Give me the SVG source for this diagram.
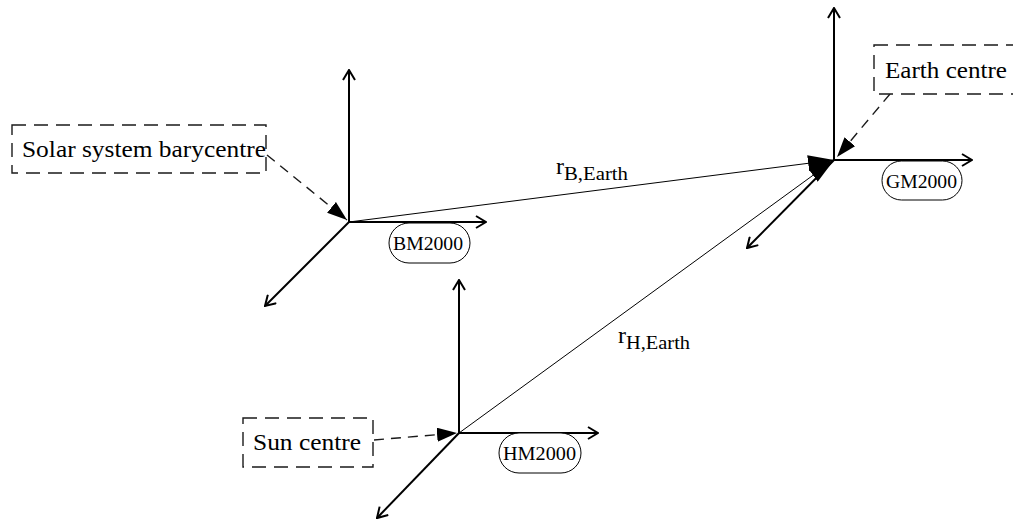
<svg xmlns="http://www.w3.org/2000/svg" width="1013" height="523" viewBox="0 0 1013 523">
<defs>
<marker id="open" viewBox="0 0 12 14" refX="11" refY="7" markerWidth="12" markerHeight="14" markerUnits="userSpaceOnUse" orient="auto">
<path d="M1,1 L11,7 L1,13" fill="none" stroke="#000" stroke-width="2"/>
</marker>
<marker id="solid" viewBox="0 0 26 16" refX="26" refY="8" markerWidth="26" markerHeight="16" markerUnits="userSpaceOnUse" orient="auto">
<path d="M0,0 L26,8 L0,16 Z" fill="#000"/>
</marker>
<marker id="solidS" viewBox="0 0 20 14" refX="20" refY="7" markerWidth="20" markerHeight="14" markerUnits="userSpaceOnUse" orient="auto">
<path d="M0,0 L20,7 L0,14 Z" fill="#000"/>
</marker>
</defs>
<style>
.axis{stroke:#000;stroke-width:2;fill:none;marker-end:url(#open)}
.vec{stroke:#000;stroke-width:1;fill:none;marker-end:url(#solid)}
.dash{stroke:#1a1a1a;stroke-width:1.4;fill:none;stroke-dasharray:10,7;marker-end:url(#solidS)}
.lbox{fill:#fff;stroke:#1a1a1a;stroke-width:1.4;stroke-dasharray:14,8}
.tag{fill:#fff;stroke:#000;stroke-width:1}
.t{font-family:"Liberation Serif","Times New Roman",serif;fill:#000}
.big{font-size:24px}
.small{font-size:18px}
</style>
<g id="frame-bm2000">
<line class="axis" x1="349" y1="222" x2="349" y2="70"/>
<line class="axis" x1="349" y1="222" x2="486" y2="222"/>
<line class="axis" x1="349" y1="222" x2="265" y2="306"/>
<rect class="tag" x="389" y="223" width="81" height="40" rx="20"/>
<text class="t small" x="393" y="250" textLength="70" lengthAdjust="spacingAndGlyphs">BM2000</text>
</g>
<g id="frame-gm2000">
<line class="axis" x1="834" y1="160" x2="834" y2="8"/>
<line class="axis" x1="834" y1="160" x2="972" y2="160"/>
<line class="axis" x1="834" y1="160" x2="747" y2="248"/>
<rect class="tag" x="882" y="161" width="80" height="39" rx="19.5"/>
<text class="t small" x="886" y="188" textLength="71" lengthAdjust="spacingAndGlyphs">GM2000</text>
</g>
<g id="frame-hm2000">
<line class="axis" x1="459" y1="433" x2="459" y2="280"/>
<line class="axis" x1="459" y1="433" x2="598" y2="433"/>
<line class="axis" x1="459" y1="433" x2="377" y2="518"/>
<rect class="tag" x="499" y="433" width="82" height="40" rx="20"/>
<text class="t small" x="503" y="460" textLength="73" lengthAdjust="spacingAndGlyphs">HM2000</text>
</g>
<g id="connectors">
<line class="vec" x1="349" y1="222" x2="834" y2="160"/>
<line class="vec" x1="459" y1="433" x2="834" y2="160"/>
<line class="dash" x1="267" y1="155" x2="347" y2="220"/>
<line class="dash" x1="890" y1="94" x2="837" y2="157"/>
<line class="dash" x1="374" y1="440" x2="457" y2="433"/>
</g>
<g id="label-barycentre">
<rect class="lbox" x="12" y="125" width="254" height="48"/>
<text class="t big" x="22" y="157" textLength="244" lengthAdjust="spacingAndGlyphs">Solar system barycentre</text>
</g>
<g id="label-earth">
<rect class="lbox" x="874" y="45" width="150" height="49"/>
<text class="t big" x="885" y="78" textLength="122" lengthAdjust="spacingAndGlyphs">Earth centre</text>
</g>
<g id="label-sun">
<rect class="lbox" x="243" y="418" width="130" height="49"/>
<text class="t big" x="253" y="450" textLength="108" lengthAdjust="spacingAndGlyphs">Sun centre</text>
</g>
<g id="label-rB">
<text class="t" x="556" y="174"><tspan font-size="24px">r</tspan><tspan font-size="18px" dy="6" textLength="64" lengthAdjust="spacingAndGlyphs">B,Earth</tspan></text>
</g>
<g id="label-rH">
<text class="t" x="618" y="343"><tspan font-size="24px">r</tspan><tspan font-size="18px" dy="6" textLength="64" lengthAdjust="spacingAndGlyphs">H,Earth</tspan></text>
</g>
</svg>
